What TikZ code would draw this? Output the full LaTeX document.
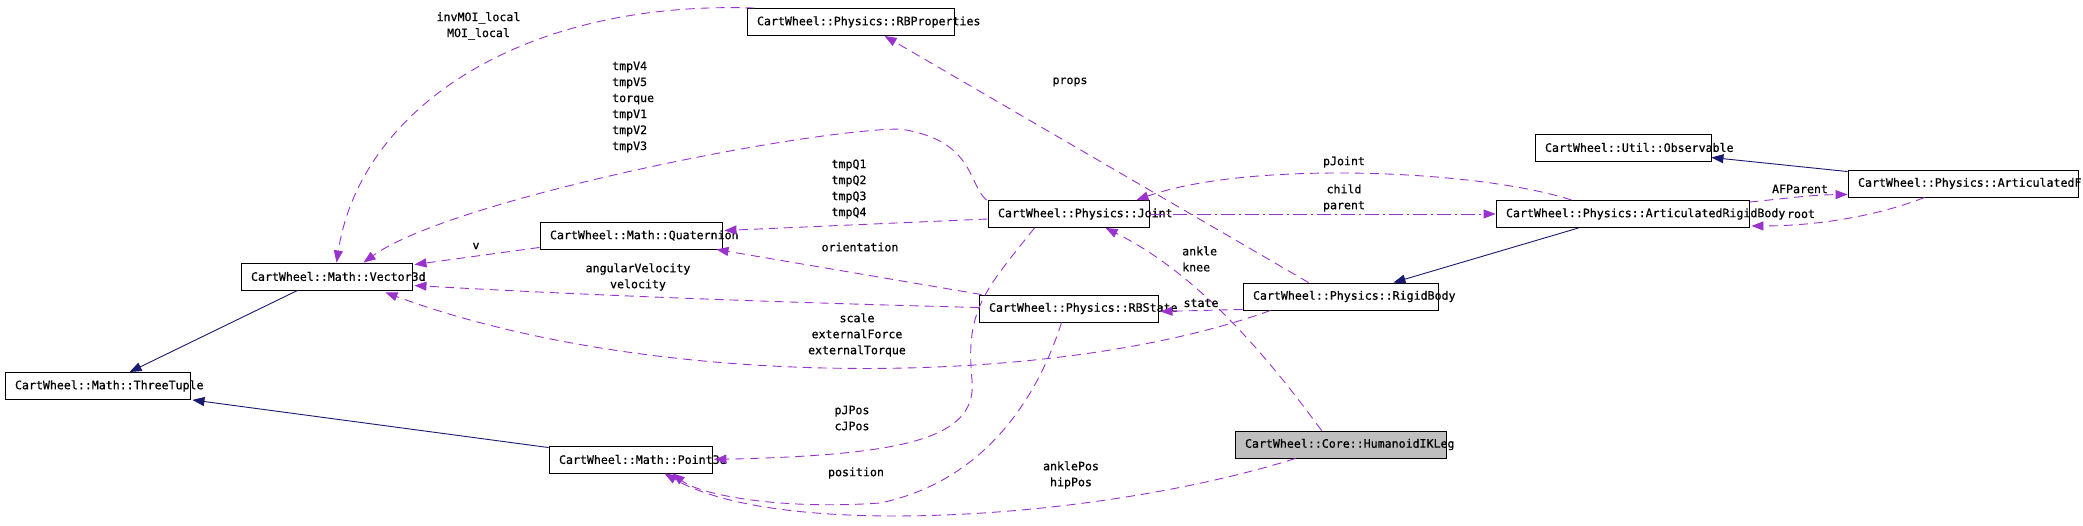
\documentclass[tikz,border=0pt]{standalone}
\usepackage{fontspec}
\newfontfamily\dfont{DejaVu Sans Mono}[FakeBold=0.6,UprightFeatures={FakeBold=0.6}]
\usetikzlibrary{arrows.meta,calc}
\definecolor{usec}{HTML}{9A32CD}
\definecolor{inhc}{HTML}{191970}
\definecolor{legfill}{HTML}{BFBFBF}
\tikzset{
  cls/.style={draw=black, line width=0.9pt, fill=white, minimum height=27pt, inner xsep=10pt, inner ysep=0pt, align=left, font={\dfont\fontsize{11.6}{16}\selectfont}},
  lbl/.style={font={\dfont\fontsize{11.6}{16}\selectfont}, inner sep=0pt, align=center},
  use/.style={draw=usec, line width=0.9pt, dash pattern=on 9pt off 6pt, -{Triangle[length=12pt,width=9pt]}},
  usedd/.style={draw=usec, line width=0.9pt, dash pattern=on 14pt off 4pt on 2pt off 4pt, -{Triangle[length=12pt,width=9pt]}},
  inh/.style={draw=inhc, line width=0.9pt, -{Triangle[length=12pt,width=9pt]}},
}
\begin{document}
\begin{tikzpicture}[x=1pt,y=-1pt]
\fill[white] (0,0) rectangle (2083,526);
\useasboundingbox (0,0) rectangle (2083,526);
% classes
\node[cls, text width=187pt] (rbp) at (850.5,22) {CartWheel::Physics::RBProperties};
\node[cls, text width=156pt] (obs) at (1623,147.5) {CartWheel::Util::Observable};
\node[cls, text width=210pt] (artf) at (1963,183.5) {CartWheel::Physics::ArticulatedF};
\node[cls, text width=141pt] (joint) at (1068.5,214) {CartWheel::Physics::Joint};
\node[cls, text width=233pt] (arb) at (1622.5,214) {CartWheel::Physics::ArticulatedRigidBody};
\node[cls, text width=162pt] (quat) at (631,235.5) {CartWheel::Math::Quaternion};
\node[cls, text width=151pt] (vec) at (326.5,276.5) {CartWheel::Math::Vector3d};
\node[cls, text width=159pt] (rbs) at (1068.5,308.5) {CartWheel::Physics::RBState};
\node[cls, text width=175pt] (rb) at (1340.5,296.5) {CartWheel::Physics::RigidBody};
\node[cls, text width=165pt] (tt) at (97.5,386) {CartWheel::Math::ThreeTuple};
\node[cls, text width=143pt] (p3) at (630.5,459.5) {CartWheel::Math::Point3d};
\node[cls, fill=legfill, text width=191pt] (leg) at (1340.5,444.5) {CartWheel::Core::HumanoidIKLeg};
% inheritance
\draw[inh] ($(artf.north west)+(0,2)$) -- ($(obs.east)+(0,10)$);
\draw[inh] ($(vec.south west)+(57,0)$) -- ($(tt.north west)+(125,0)$);
\draw[inh] ($(p3.north west)+(0,2)$) -- ($(tt.south east)+(2,0)$);
\draw[inh] ($(arb.south west)+(83,0)$) -- ($(rb.north east)+(-45,0)$);
% usage
\draw[use] ($(rb.north west)+(66,0)$) -- ($(rbp.south west)+(138,0)$);
\draw[use] ($(rbp.north west)+(8,0)$) .. controls (520,0) and (360,110) .. ($(vec.north west)+(96,0)$);
\draw[use] ($(joint.north west)+(-1,0)$) .. controls (968,185) and (975,140) .. (900,129) .. controls (800,130) and (450,200) .. ($(vec.north west)+(123,0)$);
\draw[use] ($(quat.south west)+(0,-2)$) -- ($(vec.north east)+(2,2)$);
\draw[use] ($(joint.west)+(0,5)$) -- ($(quat.east)+(2,-5)$);
\draw[use] ($(rbs.north west)+(3,0)$) -- ($(quat.south east)+(-6,0)$);
\draw[use] ($(rbs.west)+(0,-1)$) .. controls (800,303) and (600,296) .. ($(vec.east)+(2,9)$);
\draw[use] ($(rb.south west)+(28,0)$) .. controls (1050,390) and (650,390) .. ($(vec.south east)+(-27,2)$);
\draw[use] ($(joint.south west)+(47,0)$) .. controls (985,290) and (965,310) .. (972,380) .. controls (978,440) and (900,455) .. ($(p3.east)+(2,0)$);
\draw[use] ($(rbs.south west)+(83,0)$) .. controls (1040,390) and (990,480) .. (880,503) .. controls (780,510) and (700,495) .. ($(p3.south west)+(124,0)$);
\draw[use] ($(leg.south west)+(61,0)$) .. controls (1100,520) and (780,540) .. ($(p3.south west)+(116,0)$);
\draw[use] ($(leg.north west)+(87,0)$) .. controls (1270,360) and (1200,275) .. ($(joint.south west)+(118,0)$);
\draw[use] ($(arb.north west)+(76,0)$) .. controls (1480,170) and (1250,160) .. ($(joint.north east)+(-13,0)$);
\draw[usedd] (joint.east) -- (arb.west);
\draw[use] ($(artf.south west)+(77,0)$) .. controls (1880,215) and (1820,226) .. ($(arb.south east)+(2,-2)$);
\draw[use] ($(arb.north east)+(0,2)$) .. controls (1790,198) and (1810,195) .. ($(artf.south west)+(0,-3)$);
\draw[use] ($(rb.south west)+(0,-1)$) -- ($(rbs.east)+(2,3)$);
% labels
\node[lbl] (l1) at (478.5,26) {invMOI\_local\\MOI\_local};
\node[lbl, align=left, anchor=west] (l2) at (612,107) {tmpV4\\tmpV5\\torque\\tmpV1\\tmpV2\\tmpV3};
\node[lbl] (l3) at (849,189) {tmpQ1\\tmpQ2\\tmpQ3\\tmpQ4};
\node[lbl] (l4) at (476,246) {v};
\node[lbl] (l5) at (638,277) {angularVelocity\\velocity};
\node[lbl] (l6) at (860,247) {orientation};
\node[lbl] (l7) at (1070,82) {props};
\node[lbl] (l8) at (1344,162) {pJoint};
\node[lbl] (l9) at (1344,198) {child\\parent};
\node[lbl] (l10) at (1800,189) {AFParent};
\node[lbl] (l11) at (1801,214) {root};
\node[lbl, align=left, anchor=west] (l12) at (1182,259) {ankle\\knee};
\node[lbl] (l13) at (1201,303) {state};
\node[lbl] (l14) at (857,335) {scale\\externalForce\\externalTorque};
\node[lbl] (l15) at (852,418) {pJPos\\cJPos};
\node[lbl] (l16) at (856,473) {position};
\node[lbl] (l17) at (1071,475) {anklePos\\hipPos};
\end{tikzpicture}
\end{document}
